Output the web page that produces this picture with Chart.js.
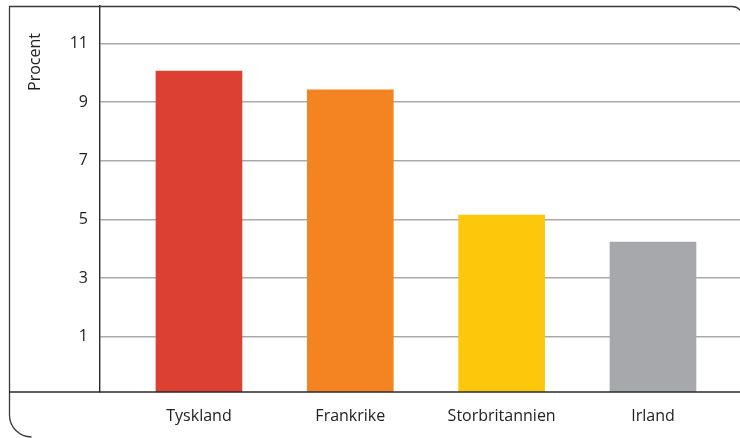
<!DOCTYPE html>
<html>
<head>
<meta charset="utf-8">
<script src="https://cdn.jsdelivr.net/npm/chart.js@4.4.1/dist/chart.umd.min.js"></script>
<style>
  html, body { margin: 0; padding: 0; background: #fff; }
  #wrap { width: 740px; height: 438px; position: relative; }
</style>
</head>
<body>
<div id="wrap"><canvas id="myBarChart"></canvas></div>
<script>
// data
var countries = ['Tyskland', 'Frankrike', 'Storbritannien', 'Irland'];
var values = [10.05, 9.41, 5.15, 4.23];
var barColors = ['#DB4032', '#F38421', '#FDC70C', '#A7A8AB'];
var yTicks = [1, 3, 5, 7, 9, 11];
var yTitle = 'Procent';

var yMin = -0.88, yMax = 12.27;
var xMin = -0.654, xMax = 3.575;

var points = [];
for (var i = 0; i < values.length; i++) {
    points.push({ x: i, y: values[i] });
}

// frame round the chart + the y axis title
var framePlugin = {
    id: 'frame',
    afterDraw: function (chart) {
        var ctx = chart.ctx;
        var area = chart.chartArea;
        ctx.save();
        ctx.strokeStyle = '#3a3a3a';
        ctx.lineWidth = 1.3;
        ctx.beginPath();
        ctx.moveTo(743, 30);
        ctx.arcTo(743, 6.5, 720, 6.5, 11);
        ctx.lineTo(9.5, 6.5);
        ctx.lineTo(9.5, 415);
        ctx.arcTo(9.5, 437, 31, 437, 22);
        ctx.stroke();
        // baseline across the whole width
        ctx.lineWidth = 1.6;
        ctx.strokeStyle = '#2a2a2a';
        ctx.beginPath();
        ctx.moveTo(9, area.bottom);
        ctx.lineTo(740, area.bottom);
        ctx.stroke();

        ctx.translate(35, 62);
        ctx.rotate(-Math.PI / 2);
        ctx.fillStyle = '#222';
        ctx.font = '16px "Open Sans"';
        ctx.textAlign = 'center';
        ctx.textBaseline = 'middle';
        ctx.fillText(yTitle, 0, 0);
        ctx.restore();
    }
};

var config = {
    type: 'bar',
    data: {
        datasets: [{
            data: points,
            backgroundColor: barColors,
            borderWidth: 0,
            barThickness: 86,
            base: yMin
        }]
    },
    options: {
        responsive: true,
        maintainAspectRatio: false,
        animation: false,
        layout: { padding: { top: 6, right: 0, left: 0, bottom: 0 } },
        plugins: {
            legend: { display: false },
            tooltip: { enabled: false }
        },
        scales: {
            x: {
                type: 'linear',
                min: xMin,
                max: xMax,
                offset: false,
                afterBuildTicks: function (axis) {
                    axis.ticks = countries.map(function (c, i) { return { value: i }; });
                },
                afterFit: function (axis) {
                    axis.height = 46;
                    axis.paddingLeft = 0;
                    axis.paddingRight = 0;
                },
                grid: { display: false, offset: false },
                border: { display: false },
                ticks: {
                    padding: 7,
                    autoSkip: false,
                    maxRotation: 0,
                    color: '#222',
                    font: { family: 'Open Sans', size: 16 },
                    callback: function (v) { return countries[v]; }
                }
            },
            y: {
                min: yMin,
                max: yMax,
                afterBuildTicks: function (axis) {
                    axis.ticks = yTicks.map(function (v) { return { value: v }; });
                },
                afterFit: function (axis) {
                    axis.width = 100;
                    axis.paddingTop = 0;
                    axis.paddingBottom = 0;
                },
                grid: { color: '#aaaaaa', lineWidth: 1.4, drawTicks: false },
                border: { display: true, color: '#2a2a2a', width: 1.4 },
                ticks: {
                    padding: 12,
                    color: '#222',
                    font: { family: 'Open Sans', size: 16 }
                }
            }
        }
    },
    plugins: [framePlugin]
};

var ctx = document.getElementById('myBarChart').getContext('2d');
var myBarChart = new Chart(ctx, config);
</script>
</body>
</html>
